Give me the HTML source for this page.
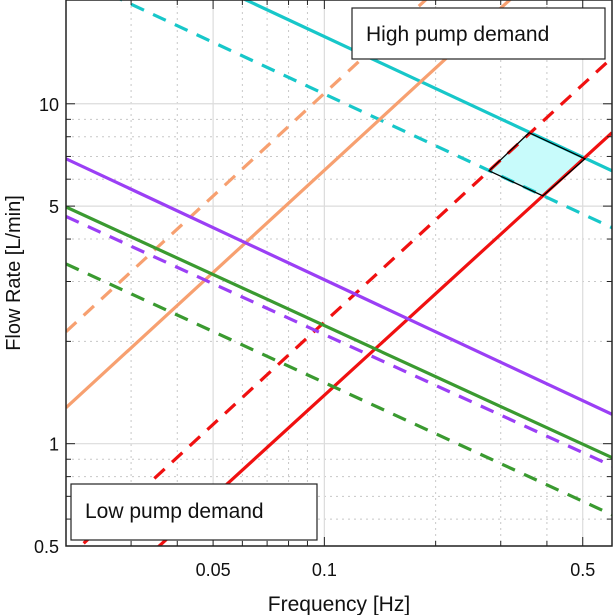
<!DOCTYPE html>
<html><head><meta charset="utf-8"><style>
body{margin:0;background:#fff;font-family:"Liberation Sans",sans-serif}
svg{display:block}
</style></head><body>
<svg id="chart" width="614" height="615" viewBox="0 0 614 615" xmlns="http://www.w3.org/2000/svg">
<defs><clipPath id="clip"><rect x="66" y="0" width="546" height="546"/></clipPath></defs>
<g id="grid"></g>
<g id="series" clip-path="url(#clip)"></g>
<rect x="66" y="0" width="546" height="546" fill="none" stroke="#222" stroke-width="1.5"/>
<g id="ticks"></g>
<g>
<rect x="352" y="8" width="253" height="51" fill="#fff" stroke="#222" stroke-width="1.2"/>
<text x="366" y="41" font-size="21" fill="#111">High pump demand</text></g>
<g>
<rect x="71" y="484" width="246" height="56" fill="#fff" stroke="#222" stroke-width="1.2"/>
<text x="85" y="518" font-size="21" fill="#111">Low pump demand</text></g>
<text x="339" y="611" font-size="21" text-anchor="middle" fill="#111">Frequency [Hz]</text>
<text transform="translate(20,273) rotate(-90)" font-size="20" text-anchor="middle" fill="#111">Flow Rate [L/min]</text>
</svg>
<script>
const xMajor=[0.05,0.1,0.5];
const xMajorLabels=["0.05","0.1","0.5"];
const xMinor=[0.03,0.04,0.06,0.07,0.08,0.09,0.2,0.3,0.4];
const yMajor=[0.5,1,5,10];
const yMajorLabels=["0.5","1","5","10"];
const yMinor=[0.6,0.7,0.8,0.9,2,3,4,6,7,8,9];
const lineFreqs=[0.02,0.6];
const cyanSolid=[35.7,6.35];
const cyanDashed=[24.1,4.32];
const redSolid=[0.281,8.22];
const redDashed=[0.456,13.66];
const orangeSolid=[1.276,38.2];
const orangeDashed=[2.135,64.8];
const purpleSolid=[6.89,1.22];
const purpleDashed=[4.66,0.86];
const greenSolid=[4.97,0.91];
const greenDashed=[3.38,0.618];
const regionF=[0.279,0.358,0.507,0.390];
const regionQ=[6.35,8.22,6.89,5.36];

const NS="http://www.w3.org/2000/svg";
const X0=66,X1=612,Y0=546,Y1=0;
const xd=[0.02,0.6],yd=[0.5,20.2];
const sx=v=>X0+(Math.log10(v)-Math.log10(xd[0]))/(Math.log10(xd[1])-Math.log10(xd[0]))*(X1-X0);
const sy=v=>Y0-(Math.log10(v)-Math.log10(yd[0]))/(Math.log10(yd[1])-Math.log10(yd[0]))*(Y0-Y1);
function mk(tag,attrs,parent){const e=document.createElementNS(NS,tag);for(const k in attrs)e.setAttribute(k,attrs[k]);parent.appendChild(e);return e;}
const grid=document.getElementById('grid'),ticks=document.getElementById('ticks'),series=document.getElementById('series');
xMinor.forEach(v=>{const e=mk('line',{x1:sx(v),x2:sx(v),y1:Y1,y2:Y0,stroke:'#c8c8c8','stroke-dasharray':'2,4','stroke-width':1},grid);


[[Y0,Y0-5],[Y1,Y1+5]].forEach(p=>{const t=mk('line',{x1:sx(v),x2:sx(v),y1:p[0],y2:p[1],stroke:'#222'},ticks);});});
yMinor.forEach(v=>{const e=mk('line',{x1:X0,x2:X1,y1:sy(v),y2:sy(v),stroke:'#c8c8c8','stroke-dasharray':'2,4','stroke-width':1},grid);


[[X0,X0+5],[X1,X1-5]].forEach(p=>{const t=mk('line',{x1:p[0],x2:p[1],y1:sy(v),y2:sy(v),stroke:'#222'},ticks);});});
xMajor.forEach((v,i)=>{const e=mk('line',{x1:sx(v),x2:sx(v),y1:Y1,y2:Y0,stroke:'#dcdcdc','stroke-width':1.2},grid);


[[Y0,Y0-9],[Y1,Y1+9]].forEach(p=>{const t=mk('line',{x1:sx(v),x2:sx(v),y1:p[0],y2:p[1],stroke:'#222'},ticks);});
const t=mk('text',{x:sx(v),y:576,'font-size':18,'text-anchor':'middle',fill:'#111'},ticks);t.textContent=xMajorLabels[i];

});
yMajor.forEach((v,i)=>{const e=mk('line',{x1:X0,x2:X1,y1:sy(v),y2:sy(v),stroke:'#dcdcdc','stroke-width':1.2},grid);


[[X0,X0+9],[X1,X1-9]].forEach(p=>{const t=mk('line',{x1:p[0],x2:p[1],y1:sy(v),y2:sy(v),stroke:'#222'},ticks);});
const t=mk('text',{x:59,y:sy(v)+7,'font-size':18,'text-anchor':'end',fill:'#111'},ticks);t.textContent=yMajorLabels[i];

});
const defs=[['cyan-solid',cyanSolid,'#17c7c9',0],['cyan-dashed',cyanDashed,'#17c7c9',1],['red-solid',redSolid,'#f01010',0],['red-dashed',redDashed,'#f01010',1],['orange-solid',orangeSolid,'#f7a070',0],['orange-dashed',orangeDashed,'#f7a070',1],['purple-solid',purpleSolid,'#9b3ff5',0],['purple-dashed',purpleDashed,'#9b3ff5',1],['green-solid',greenSolid,'#3a9a30',0],['green-dashed',greenDashed,'#3a9a30',1]];
const reg=mk('polygon',{points:regionF.map((f,i)=>sx(f)+','+sy(regionQ[i])).join(' '),fill:'#c8fbfb',stroke:'none'},series);


defs.forEach(d=>{const a={x1:sx(lineFreqs[0]),y1:sy(d[1][0]),x2:sx(lineFreqs[1]),y2:sy(d[1][1]),stroke:d[2],'stroke-width':3.2};
if(d[3])a['stroke-dasharray']='14,10';
const l=mk('line',a,series);

});
const regEdge=mk('polygon',{points:regionF.map((f,i)=>sx(f)+','+sy(regionQ[i])).join(' '),fill:'none',stroke:'#000','stroke-width':1.3},series);


</script>
</body></html>
